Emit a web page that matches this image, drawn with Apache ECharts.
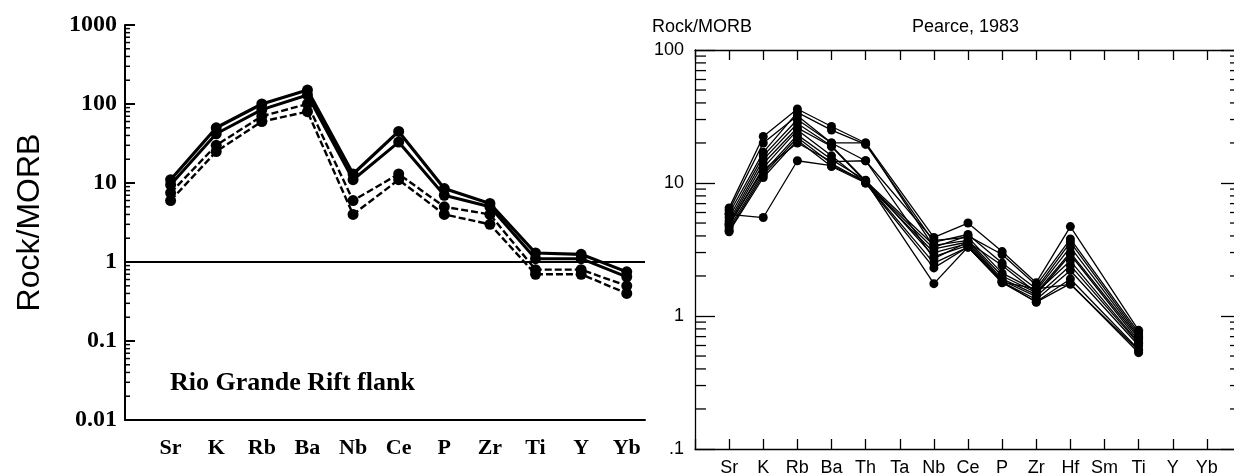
<!DOCTYPE html>
<html>
<head>
<meta charset="utf-8">
<script src="https://cdn.jsdelivr.net/npm/echarts@6/dist/echarts.min.js"></script>
<style>
html,body{margin:0;padding:0;background:#fff;}
#chart{width:1234px;height:475px;}
</style>
</head>
<body>
<div id="chart"></div>
<script>
// ---------- Left panel (Rio Grande Rift flank) ----------
const leftCats = ['Sr','K','Rb','Ba','Nb','Ce','P','Zr','Ti','Y','Yb'];
const leftS1 = [11, 50, 100, 150, 13, 45, 8.5, 5.5, 1.3, 1.25, 0.75];
const leftS2 = [9.5, 42, 85, 130, 11, 33, 7, 5, 1.1, 1.1, 0.65];
const leftS3 = [7.5, 30, 70, 100, 6, 13, 5, 4, 0.8, 0.8, 0.5];
const leftS4 = [6, 25, 60, 80, 4, 11, 4, 3, 0.7, 0.7, 0.4];
const leftDecades = [0.01, 0.1, 1, 10, 100];

// ---------- Right panel (Pearce, 1983) ----------
const rightCats = ['Sr','K','Rb','Ba','Th','Ta','Nb','Ce','P','Zr','Hf','Sm','Ti','Y','Yb'];
const r1  = [6.5, 22.4, 36, 26.6, 20, null, 3.9, 5.0, 3.05, 1.78, 4.7, null, 0.78, null, null];
const r2  = [5.9, 17, 34, 25, 19.5, null, 3.6, 4.1, 2.5, 1.6, 3.6, null, 0.72, null, null];
const r3  = [5.5, 16, 30, 20, 14.7, null, 3.7, 3.9, 2.1, 1.55, 3.3, null, 0.7, null, null];
const r4  = [5.2, 15, 28, 19, 10.4, null, 3.4, 3.7, 2.0, 1.5, 3.0, null, 0.68, null, null];
const r5  = [5.0, 14, 26, 18.8, 10.2, null, 3.2, 3.6, 1.9, 1.45, 2.9, null, 0.65, null, null];
const r6  = [4.8, 13, 25, 16, 10.0, null, 3.0, 3.5, 1.85, 1.4, 2.4, null, 0.62, null, null];
const r7  = [4.6, 12, 23, 15, 10.5, null, 2.8, 3.4, 1.8, 1.33, 2.2, null, 0.6, null, null];
const r8  = [4.4, 11.5, 22, 14, 10.1, null, 2.5, 3.3, 1.78, 1.28, 1.9, null, 0.56, null, null];
const r9  = [4.3, 11, 21, 13.3, 10.0, null, 2.3, 3.3, 1.8, 1.27, 1.75, null, 0.53, null, null];
const r10 = [5.8, 5.5, 14.7, 13.5, 10.3, null, 1.75, 3.3, 1.8, 1.6, 1.73, null, 0.55, null, null];
const r11 = [6.2, 20, 32, 20, 20, null, 3.3, 4.0, 2.9, 1.7, 3.8, null, 0.75, null, null];
const r12 = [4.9, 12.5, 20, 14.5, 14.7, null, 2.7, 3.6, 2.4, 1.5, 2.6, null, 0.63, null, null];
const rightSeries = [r1,r2,r3,r4,r5,r6,r7,r8,r9,r10,r11,r12];
const rightDecades = [0.1, 1, 10];
const minorFactors = [2,3,4,5,6,7,8,9];

function toPairs(arr){
  const out = [];
  arr.forEach((v,i)=>{ if(v!=null) out.push([i+1, v]); });
  return out;
}
function minorValues(decades){
  const out = [];
  decades.forEach(d => minorFactors.forEach(f => out.push([0, d*f])));
  return out;
}
function fmtNum(v, stripZero){
  const r = Math.round(v*10000)/10000;
  let s = String(r);
  if (stripZero && r < 1) s = s.replace(/^0/, '');
  return s;
}

const chart = echarts.init(document.getElementById('chart'), null, {renderer:'canvas'});

const series = [];
const leftStyles = [
  {w:3.2, type:'solid'}, {w:3, type:'solid'}, {w:2.4, type:[7,3]}, {w:2.4, type:[7,3]}
];
[leftS1,leftS2,leftS3,leftS4].forEach((arr, k) => {
  series.push({
    type:'line', xAxisIndex:0, yAxisIndex:0,
    data: toPairs(arr),
    symbol:'circle', symbolSize:11,
    itemStyle:{color:'#000'},
    lineStyle:{color:'#000', width:leftStyles[k].w, type:leftStyles[k].type},
    silent:true, z:3,
    markLine: k===0 ? {
      silent:true, symbol:['none','none'], label:{show:false},
      lineStyle:{color:'#000', width:2, type:'solid'},
      data:[{yAxis:1}]
    } : undefined
  });
});
// left minor ticks
series.push({
  type:'custom', xAxisIndex:0, yAxisIndex:0, silent:true, z:5,
  data: minorValues(leftDecades),
  renderItem: function(params, api){
    const p = api.coord([0, api.value(1)]);
    return {type:'line', shape:{x1:p[0], y1:p[1], x2:p[0]+5, y2:p[1]},
      style:{stroke:'#000', lineWidth:1.5}};
  }
});

rightSeries.forEach(arr => {
  series.push({
    type:'line', xAxisIndex:1, yAxisIndex:1,
    data: toPairs(arr),
    symbol:'circle', symbolSize:9,
    itemStyle:{color:'#000'},
    lineStyle:{color:'#000', width:1.3},
    silent:true, z:3
  });
});
// right minor ticks (both sides)
series.push({
  type:'custom', xAxisIndex:1, yAxisIndex:1, silent:true, z:5,
  data: minorValues(rightDecades),
  renderItem: function(params, api){
    const v = api.value(1);
    const a = api.coord([0, v]);
    const b = api.coord([rightCats.length+1, v]);
    return {type:'group', children:[
      {type:'line', shape:{x1:a[0], y1:a[1], x2:a[0]+11, y2:a[1]}, style:{stroke:'#000', lineWidth:1.3}},
      {type:'line', shape:{x1:b[0], y1:b[1], x2:b[0]-11, y2:b[1]}, style:{stroke:'#000', lineWidth:1.3}}
    ]};
  }
});

const serifLabel = {color:'#000', fontFamily:'Liberation Serif', fontWeight:'bold'};
const sansLabel = {color:'#000', fontFamily:'Liberation Sans', fontSize:18};

chart.setOption({
  animation:false,
  backgroundColor:'#fff',
  title:[
    {text:'Rock/MORB', left:652, top:18, padding:0,
      textStyle:{color:'#000', fontFamily:'Liberation Sans', fontSize:18, fontWeight:'normal'}},
    {text:'Pearce, 1983', left:912, top:18, padding:0,
      textStyle:{color:'#000', fontFamily:'Liberation Sans', fontSize:18, fontWeight:'normal'}},
    {text:'Rio Grande Rift flank', left:170, top:370, padding:0,
      textStyle:{color:'#000', fontFamily:'Liberation Serif', fontSize:26, fontWeight:'bold'}}
  ],
  grid:[
    {left:125, width:520, top:25, height:395, containLabel:false, outerBoundsMode:'none'},
    {left:695, width:546, top:50, height:399, containLabel:false, outerBoundsMode:'none'}
  ],
  xAxis:[
    {gridIndex:0, type:'value', min:0, max:11.4, interval:1,
      axisLine:{show:true, lineStyle:{color:'#000', width:2}},
      axisTick:{show:false}, splitLine:{show:false},
      axisLabel:Object.assign({}, serifLabel, {fontSize:22, margin:17,
        formatter:v => (Number.isInteger(v) && v>=1 && v<=leftCats.length) ? leftCats[v-1] : ''})},
    {gridIndex:1, type:'value', min:0, max:rightCats.length+1, interval:1, position:'bottom',
      axisLine:{show:true, onZero:false, lineStyle:{color:'#000', width:1.3}},
      axisTick:{show:true, inside:true, length:10, lineStyle:{color:'#000', width:1.3}},
      splitLine:{show:false},
      axisLabel:Object.assign({}, sansLabel, {margin:10,
        formatter:v => (Number.isInteger(v) && v>=1 && v<=rightCats.length) ? rightCats[v-1] : ''})},
    {gridIndex:1, type:'value', min:0, max:rightCats.length+1, interval:1, position:'top',
      axisLine:{show:true, onZero:false, lineStyle:{color:'#000', width:1.3}},
      axisTick:{show:true, inside:true, length:10, lineStyle:{color:'#000', width:1.3}},
      splitLine:{show:false}, axisLabel:{show:false}}
  ],
  yAxis:[
    {gridIndex:0, type:'log', logBase:10, min:0.01, max:1000,
      name:'Rock/MORB', nameLocation:'middle', nameRotate:90, nameGap:79,
      nameTextStyle:{color:'#000', fontFamily:'Liberation Sans', fontSize:32},
      axisLine:{show:true, lineStyle:{color:'#000', width:2}},
      axisTick:{show:true, inside:true, length:10, lineStyle:{color:'#000', width:2}},
      splitLine:{show:false},
      axisLabel:Object.assign({}, serifLabel, {fontSize:24, margin:8, formatter:v => fmtNum(v,false)})},
    {gridIndex:1, type:'log', logBase:10, min:0.1, max:100, position:'left',
      axisLine:{show:true, onZero:false, lineStyle:{color:'#000', width:1.3}},
      axisTick:{show:true, inside:true, length:20, lineStyle:{color:'#000', width:1.3}},
      splitLine:{show:false},
      axisLabel:Object.assign({}, sansLabel, {margin:11, formatter:v => fmtNum(v,true)})},
    {gridIndex:1, type:'log', logBase:10, min:0.1, max:100, position:'right',
      axisLine:{show:true, onZero:false, lineStyle:{color:'#000', width:1.3}},
      axisTick:{show:true, inside:true, length:20, lineStyle:{color:'#000', width:1.3}},
      splitLine:{show:false}, axisLabel:{show:false}}
  ],
  series: series
});
</script>
</body>
</html>
